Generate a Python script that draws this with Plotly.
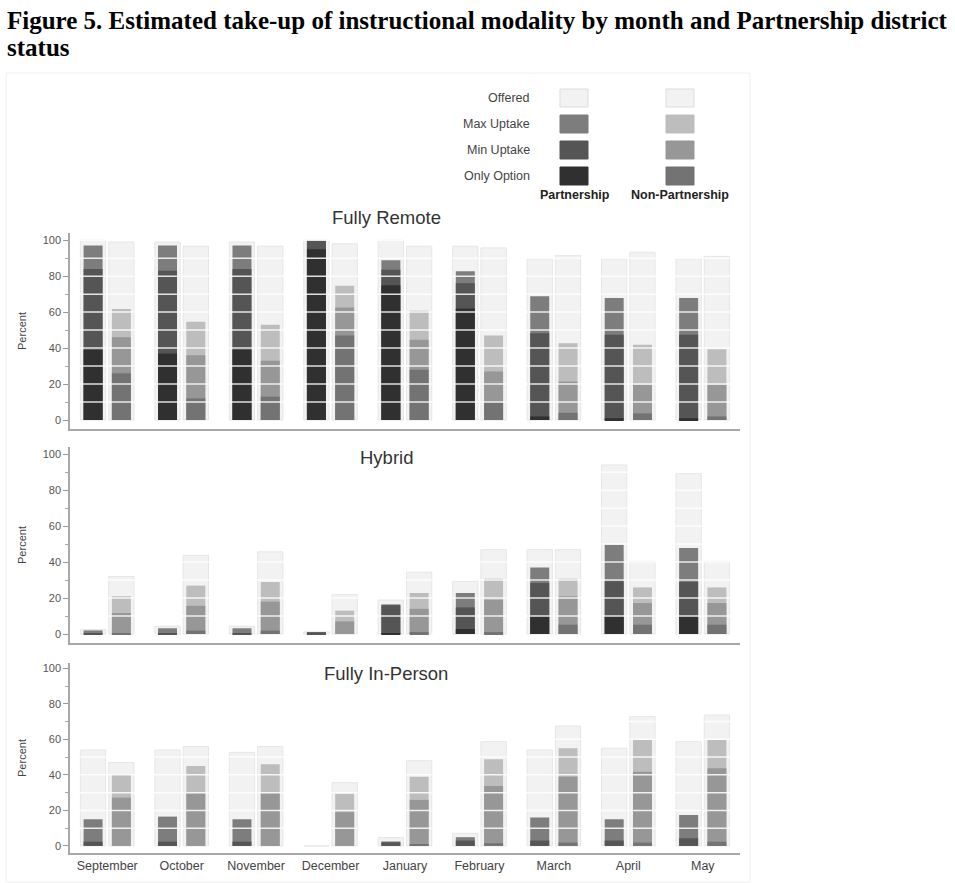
import plotly.graph_objects as go

months = ["September", "October", "November", "December", "January",
          "February", "March", "April", "May"]

# ---- Fully Remote ----
remote_part_offered = [100, 99, 99, 100, 100, 96.7, 89.6, 89.6, 89.6]
remote_part_max = [97, 97, 97, 100, 88.8, 82.7, 68.8, 67.8, 67.8]
remote_part_min = [84, 83, 84, 100, 83.6, 76, 48.3, 47.4, 47.4]
remote_part_only = [39, 37, 39, 95, 75, 62, 2, 1, 1]
remote_non_offered = [99, 96.7, 96.7, 98, 96.7, 95.7, 91.4, 93.3, 91]
remote_non_max = [61.7, 54.6, 53, 74.7, 60.8, 47, 42.7, 41.8, 39.4]
remote_non_min = [46, 36, 33, 62.6, 44.6, 27, 21.4, 19.5, 19.5]
remote_non_only = [26, 12, 13, 47, 28, 9.7, 4, 3.7, 2]

# ---- Hybrid ----
hybrid_part_offered = [2.5, 4.3, 4.3, 1.2, 18.9, 29.3, 46.9, 94, 89.4]
hybrid_part_max = [2, 3.2, 3.2, 1, 16.5, 22.8, 37, 49.6, 47.8]
hybrid_part_min = [0.5, 0.5, 0.3, 1, 16, 14.8, 28.3, 29.3, 28.9]
hybrid_part_only = [0, 0, 0, 0, 0.5, 2.8, 9.8, 9.8, 9.8]
hybrid_non_offered = [32, 43.7, 45.7, 21.9, 34.4, 46.9, 46.9, 40.4, 40.4]
hybrid_non_max = [21, 26.9, 28.9, 13, 22.8, 30.7, 30.7, 25.9, 25.9]
hybrid_non_min = [11.7, 15.7, 18, 7, 14, 19, 20.9, 17.2, 17.2]
hybrid_non_only = [0.3, 1.9, 1.9, 0, 1.1, 1.1, 5.2, 5.2, 5.2]

# ---- Fully In-Person ----
inperson_part_offered = [54, 54, 52.7, 0, 4.7, 7.1, 54, 55, 58.7]
inperson_part_max = [15, 16.5, 15, 0, 2.5, 4.9, 16, 15, 17.4]
inperson_part_min = [2.4, 2.4, 2.4, 0, 2, 3, 3, 3, 4.3]
inperson_part_only = [0, 0, 0, 0, 0, 0, 0, 0, 0]
inperson_non_offered = [47, 56, 56, 35.6, 48, 58.7, 67.5, 72.8, 73.7]
inperson_non_max = [40, 45, 46, 29.3, 39, 48.8, 55, 59.7, 59.7]
inperson_non_min = [27.2, 29.6, 29.6, 19, 25.9, 33.8, 39, 41.8, 43.7]
inperson_non_only = [0, 0, 0, 0, 0.6, 1.5, 1.9, 1.9, 2.4]

panel_titles = ["Fully Remote", "Hybrid", "Fully In-Person"]
layer_names = ["Offered", "Max Uptake", "Min Uptake", "Only Option"]
part_colors = ["#f2f2f2", "#7d7d7d", "#555555", "#303030"]
non_colors = ["#f2f2f2", "#bdbdbd", "#979797", "#737373"]
group_names = ["Partnership", "Non-Partnership"]

panels = [
    ([remote_part_offered, remote_part_max, remote_part_min, remote_part_only],
     [remote_non_offered, remote_non_max, remote_non_min, remote_non_only]),
    ([hybrid_part_offered, hybrid_part_max, hybrid_part_min, hybrid_part_only],
     [hybrid_non_offered, hybrid_non_max, hybrid_non_min, hybrid_non_only]),
    ([inperson_part_offered, inperson_part_max, inperson_part_min, inperson_part_only],
     [inperson_non_offered, inperson_non_max, inperson_non_min, inperson_non_only]),
]

W, H = 955, 883


def px(xp):
    return xp / W


def py(yp):
    return 1 - yp / H


# panel pixel boxes (top, bottom) and y ranges
panel_boxes = [(233, 429), (447, 643), (663, 853)]
panel_ranges = [[-5, 104], [-5, 104], [-4, 103]]
panel_title_y = [218, 458, 673]
x_left, x_right = 70, 740

fig = go.Figure()

grp_center = [-0.19, 0.19]
offered_w = 0.34
inner_w = 0.255

for pi, (part, non) in enumerate(panels):
    xa = "x" if pi == 0 else f"x{pi + 1}"
    ya = "y" if pi == 0 else f"y{pi + 1}"
    for gi, (series, colors) in enumerate([(part, part_colors), (non, non_colors)]):
        for li, vals in enumerate(series):
            w = offered_w if li == 0 else inner_w
            fig.add_trace(go.Bar(
                x=months, y=vals,
                width=w, offset=grp_center[gi] - w / 2,
                marker=dict(color=colors[li],
                            line=dict(color="#e6e6e6", width=1 if li == 0 else 0)),
                name=f"{group_names[gi]} - {layer_names[li]}",
                showlegend=False,
                xaxis=xa, yaxis=ya,
            ))

layout = dict(
    width=W, height=H,
    margin=dict(l=0, r=0, t=0, b=0),
    paper_bgcolor="white", plot_bgcolor="white",
    barmode="overlay",
    font=dict(family="Liberation Sans, Arial, sans-serif", size=12, color="#444"),
    showlegend=False,
)

for pi in range(3):
    top, bot = panel_boxes[pi]
    sx = "" if pi == 0 else str(pi + 1)
    layout[f"xaxis{sx}"] = dict(
        domain=[px(x_left), px(x_right)],
        anchor=f"y{sx}",
        type="category",
        categoryorder="array", categoryarray=months,
        range=[-0.5, len(months) - 0.5],
        showline=True, linecolor="#a8a8a8", linewidth=2,
        showgrid=False, ticks="",
        showticklabels=(pi == 2),
        tickfont=dict(size=12.5, color="#444"),
        automargin=False,
        fixedrange=True,
    )
    layout[f"yaxis{sx}"] = dict(
        domain=[py(bot), py(top)],
        anchor=f"x{sx}",
        range=panel_ranges[pi],
        tickmode="array", tickvals=[0, 20, 40, 60, 80, 100],
        ticks="outside", ticklen=5, tickcolor="#999", tickwidth=1,
        showline=True, linecolor="#a8a8a8", linewidth=1.5,
        showgrid=False, zeroline=False,
        tickfont=dict(size=11, color="#555"),
        title=dict(text="Percent", font=dict(size=11, color="#444"), standoff=14),
        minor=dict(tickvals=[10, 30, 50, 70, 90], ticks="outside", ticklen=3,
                   tickcolor="#aaa", showgrid=False),
        automargin=False,
        fixedrange=True,
    )

shapes = []
annotations = []

# white grid bands drawn over the bars
grid_values = [10, 20, 30, 40, 50, 60, 70, 80, 90, 100]
for pi in range(3):
    sx = "" if pi == 0 else str(pi + 1)
    for g in grid_values:
        shapes.append(dict(type="line", xref=f"x{sx} domain", yref=f"y{sx}",
                           x0=0.003, x1=1, y0=g, y1=g,
                           line=dict(color="rgba(255,255,255,0.85)", width=1.5),
                           layer="above"))
    annotations.append(dict(text=panel_titles[pi], x=px(386), y=py(panel_title_y[pi]),
                            xref="paper", yref="paper", showarrow=False,
                            xanchor="center", yanchor="middle",
                            font=dict(size=18.5, color="#333")))

# faint frame around chart image
shapes.append(dict(type="rect", xref="paper", yref="paper",
                   x0=px(6), x1=px(750), y0=py(882), y1=py(73),
                   line=dict(color="#f0f0f0", width=1), layer="below"))

# custom legend
leg_rows = [98, 124, 150, 176]
for li, name in enumerate(layer_names):
    annotations.append(dict(text=name, x=px(532), y=py(leg_rows[li]),
                            xref="paper", yref="paper", showarrow=False,
                            xanchor="right", yanchor="middle",
                            font=dict(size=12.5, color="#444")))
    for gi, (colors, x0) in enumerate([(part_colors, 560), (non_colors, 666)]):
        shapes.append(dict(type="rect", xref="paper", yref="paper",
                           x0=px(x0), x1=px(x0 + 28),
                           y0=py(leg_rows[li] + 9), y1=py(leg_rows[li] - 9),
                           fillcolor=colors[li],
                           line=dict(color="#dddddd" if li == 0 else colors[li], width=1)))
for gi, (name, cx) in enumerate([("Partnership", 575), ("Non-Partnership", 680)]):
    annotations.append(dict(text=f"<b>{name}</b>", x=px(cx), y=py(195),
                            xref="paper", yref="paper", showarrow=False,
                            xanchor="center", yanchor="middle",
                            font=dict(size=12.5, color="#222")))

# figure title
title_font = dict(family="Liberation Serif, Times New Roman, serif", size=25, color="#000")
annotations.append(dict(text="<b>Figure 5. Estimated take-up of instructional modality by month and Partnership district</b>",
                        x=px(5), y=py(21), xref="paper", yref="paper", showarrow=False,
                        xanchor="left", yanchor="middle", font=title_font))
annotations.append(dict(text="<b>status</b>",
                        x=px(5), y=py(48), xref="paper", yref="paper", showarrow=False,
                        xanchor="left", yanchor="middle", font=title_font))

layout["shapes"] = shapes
layout["annotations"] = annotations
fig.update_layout(**layout)

fig.write_html("out.html", config={"displayModeBar": False},
               post_script="document.body.style.margin='0';document.body.style.overflow='hidden';")
